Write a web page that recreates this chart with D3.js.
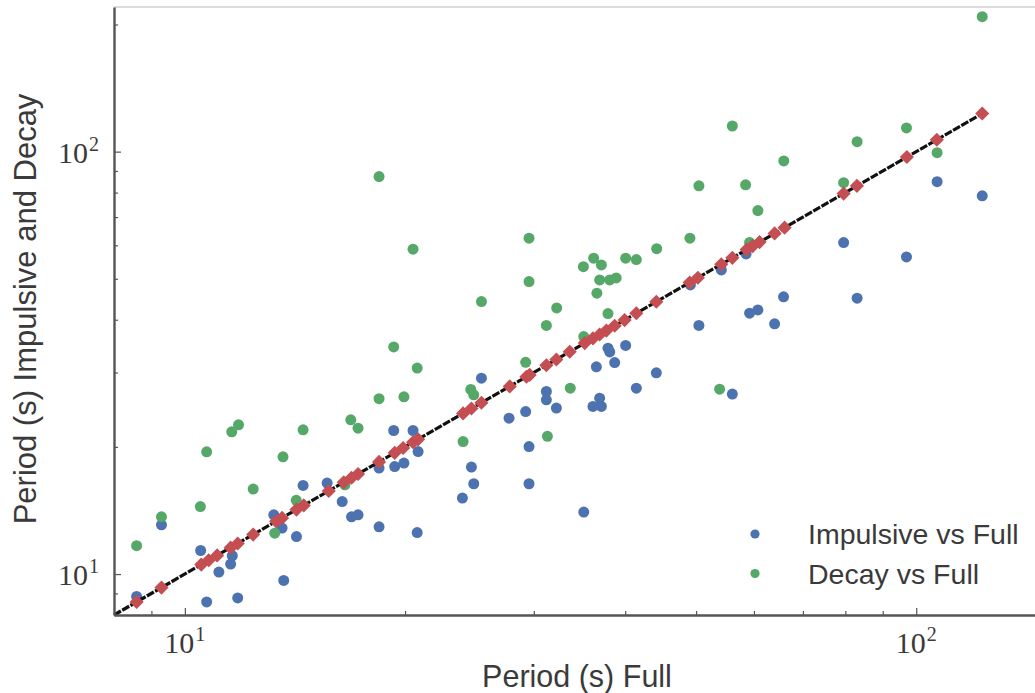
<!DOCTYPE html>
<html>
<head>
<meta charset="utf-8">
<script src="https://cdn.jsdelivr.net/npm/d3@7"></script>
<style>
  html, body { margin: 0; padding: 0; background: #fff; overflow: hidden; }
</style>
</head>
<body>
<svg id="chart" width="1035" height="693"></svg>
<script>
// Period of the full event (red, on the 1:1 line)
const fullPeriods = [8.59, 9.29, 10.53, 10.78, 11.07, 11.55, 11.81, 12.40, 13.33, 13.58, 14.21, 14.54, 15.73, 16.49, 16.90, 17.25, 18.43, 19.36, 19.88, 20.51, 20.84, 24.01, 24.65, 25.44, 27.81, 29.31, 29.61, 31.21, 32.21, 33.59, 35.22, 36.14, 36.91, 37.70, 38.70, 39.93, 41.43, 44.12, 49.00, 50.29, 54.14, 56.05, 58.63, 59.75, 61.07, 64.03, 66.07, 79.57, 82.98, 97.10, 106.7, 123.1];

// Impulsive phase period vs full period
const impulsiveX = [8.59, 9.29, 10.51, 10.71, 11.13, 11.55, 11.61, 11.81, 13.23, 13.58, 13.65, 14.21, 14.51, 15.65, 16.41, 16.90, 17.25, 18.43, 18.43, 19.30, 19.36, 19.93, 20.51, 20.84, 20.78, 23.96, 24.65, 24.83, 25.44, 27.75, 29.24, 29.55, 29.55, 31.21, 31.21, 32.21, 35.11, 36.53, 36.14, 36.91, 37.11, 37.89, 38.10, 38.70, 40.06, 41.43, 44.12, 49.11, 50.45, 54.14, 56.05, 58.53, 59.18, 60.74, 64.03, 65.86, 79.57, 83.02, 96.98, 106.8, 123.1];
const impulsiveY = [8.85, 13.08, 11.37, 8.59, 10.11, 10.56, 11.05, 8.78, 13.81, 12.85, 9.66, 12.27, 16.21, 16.42, 14.85, 13.66, 13.81, 12.94, 17.82, 21.87, 17.97, 18.31, 21.87, 19.50, 12.54, 15.13, 17.92, 16.36, 29.09, 23.39, 24.25, 20.04, 16.36, 27.05, 25.85, 24.71, 14.02, 30.94, 24.93, 26.09, 24.93, 34.25, 33.57, 31.68, 34.78, 27.55, 29.95, 48.37, 38.79, 52.48, 26.68, 57.27, 41.46, 42.21, 39.11, 45.32, 60.91, 44.99, 56.34, 84.92, 78.58];

// Decay phase period vs full period
const decayX = [8.59, 9.29, 10.50, 10.71, 11.59, 11.84, 12.40, 13.27, 13.62, 14.20, 14.51, 16.55, 16.86, 17.25, 18.43, 18.43, 19.30, 19.93, 20.51, 20.78, 24.01, 24.60, 24.83, 25.44, 29.24, 29.55, 29.55, 31.21, 31.31, 32.24, 33.65, 35.07, 35.11, 36.22, 37.11, 36.59, 36.91, 37.89, 38.10, 38.88, 40.06, 41.43, 44.17, 49.04, 50.45, 53.85, 56.05, 58.44, 59.18, 60.74, 65.91, 79.57, 83.02, 96.98, 106.8, 123.1];
const decayY = [11.67, 13.66, 14.45, 19.47, 21.71, 22.56, 15.89, 12.50, 18.95, 14.95, 21.95, 16.27, 23.18, 22.15, 87.29, 26.02, 34.50, 26.28, 58.76, 30.73, 20.59, 27.35, 26.57, 44.17, 31.71, 62.39, 49.24, 38.79, 21.19, 42.67, 27.55, 53.43, 36.49, 55.95, 53.92, 46.24, 49.70, 41.37, 49.70, 50.25, 55.95, 55.52, 58.91, 62.39, 82.98, 27.40, 115.0, 83.44, 60.97, 72.53, 95.06, 84.45, 105.6, 113.8, 99.45, 208.7];

// 1:1 reference line ends
const oneToOne = [8, 123.1];

// axis ticks
const majorTicks = [10, 100];
const tickExponents = ["1", "2"];
const xMinorTicks = [9, 20, 30, 40, 50, 60, 70, 80, 90];
const yMinorTicks = [9, 20, 30, 40, 50, 60, 70, 80, 90, 200];

const legendLabels = ["Impulsive vs Full", "Decay vs Full"];
const colors = { impulsive: "#4c72b0", decay: "#55a868", full: "#c44e52" };

var svg = d3.select("#chart"),
   margin = {top: 7, right: -10, bottom: 78, left: 114},
   width = +svg.attr("width"),
   height = +svg.attr("height");

const xScale = d3.scaleLog()
   .domain([8, 150])
   .range([margin.left, width - margin.right]);

const yScale = d3.scaleLog()
   .domain([8, 220])
   .range([height - margin.bottom, margin.top]);

const x0 = margin.left, x1 = width - margin.right,
   y0 = height - margin.bottom, y1 = margin.top;

// light frame on top / right
svg.append("path")
   .attr("d", `M${x0},${y1}H${x1}V${y0}`)
   .attr("fill", "none")
   .attr("stroke", "#dcdcdc")
   .attr("stroke-width", 2);

const plot = svg.append("g");

// impulsive points
plot.append("g")
   .selectAll("circle")
   .data(d3.zip(impulsiveX, impulsiveY))
   .join("circle")
   .attr("cx", d => xScale(d[0]))
   .attr("cy", d => yScale(d[1]))
   .attr("r", 5.5)
   .attr("fill", colors.impulsive);

// decay points
plot.append("g")
   .selectAll("circle")
   .data(d3.zip(decayX, decayY))
   .join("circle")
   .attr("cx", d => xScale(d[0]))
   .attr("cy", d => yScale(d[1]))
   .attr("r", 5.5)
   .attr("fill", colors.decay);

// 1:1 line
plot.append("path")
   .datum(oneToOne)
   .attr("d", d3.line().x(d => xScale(d)).y(d => yScale(d)))
   .attr("fill", "none")
   .attr("stroke", "#111")
   .attr("stroke-width", 3.2)
   .attr("stroke-dasharray", "8,1.5");

// full periods on the line
const diamond = d3.symbol().type(d3.symbolSquare).size(100);
plot.append("g")
   .selectAll("path")
   .data(fullPeriods)
   .join("path")
   .attr("d", diamond)
   .attr("transform", d => `translate(${xScale(d)},${yScale(d)}) rotate(45)`)
   .attr("fill", colors.full);

// axes: inward ticks, spines from the domain path
const axisColor = "#555";

svg.append("g")
   .attr("transform", `translate(0,${y0})`)
   .call(d3.axisBottom(xScale).tickValues(majorTicks).tickSize(-7).tickSizeOuter(0).tickFormat(""));
svg.append("g")
   .attr("transform", `translate(0,${y0})`)
   .call(d3.axisBottom(xScale).tickValues(xMinorTicks).tickSize(-4).tickSizeOuter(0).tickFormat(""))
   .select(".domain").remove();

svg.append("g")
   .attr("transform", `translate(${x0},0)`)
   .call(d3.axisLeft(yScale).tickValues(majorTicks).tickSize(-7).tickSizeOuter(0).tickFormat(""));
svg.append("g")
   .attr("transform", `translate(${x0},0)`)
   .call(d3.axisLeft(yScale).tickValues(yMinorTicks).tickSize(-4).tickSizeOuter(0).tickFormat(""))
   .select(".domain").remove();

svg.selectAll(".domain").attr("stroke", axisColor).attr("stroke-width", 2.4);
svg.selectAll(".tick line").attr("stroke", axisColor).attr("stroke-width", 1.2);

// power-of-ten tick labels
function powerLabel(sel, exp) {
   sel.append("tspan").text("10");
   sel.append("tspan").attr("font-size", 20).attr("dx", 1).attr("dy", -12).text(exp);
}

majorTicks.forEach((v, i) => {
   svg.append("text")
      .attr("x", xScale(v))
      .attr("y", 653)
      .attr("text-anchor", "middle")
      .attr("font-family", "'Liberation Serif', serif")
      .attr("font-size", 30)
      .attr("fill", "#3a3a3a")
      .call(powerLabel, tickExponents[i]);

   svg.append("text")
      .attr("x", x0 - 15)
      .attr("y", yScale(v) + 11)
      .attr("text-anchor", "end")
      .attr("font-family", "'Liberation Serif', serif")
      .attr("font-size", 30)
      .attr("fill", "#3a3a3a")
      .call(powerLabel, tickExponents[i]);
});

// axis titles
svg.append("text")
   .attr("x", 577)
   .attr("y", 687)
   .attr("text-anchor", "middle")
   .attr("font-family", "'Liberation Sans', Arial, sans-serif")
   .attr("font-size", 30.5)
   .attr("fill", "#3a3a3a")
   .text("Period (s) Full");

svg.append("text")
   .attr("transform", "translate(36,309) rotate(-90)")
   .attr("text-anchor", "middle")
   .attr("font-family", "'Liberation Sans', Arial, sans-serif")
   .attr("font-size", 31)
   .attr("fill", "#3a3a3a")
   .text("Period (s) Impulsive and Decay");

// legend
const legend = svg.append("g").attr("transform", "translate(755,534)");
[colors.impulsive, colors.decay].forEach((c, i) => {
   const row = legend.append("g").attr("transform", `translate(0,${i * 39.5})`);
   row.append("circle").attr("r", 4.6).attr("fill", c);
   row.append("text")
      .attr("x", 53)
      .attr("y", 10)
      .attr("font-family", "'Liberation Sans', Arial, sans-serif")
      .attr("font-size", 28.5)
      .attr("fill", "#3a3a3a")
      .text(legendLabels[i]);
});
</script>
</body>
</html>
